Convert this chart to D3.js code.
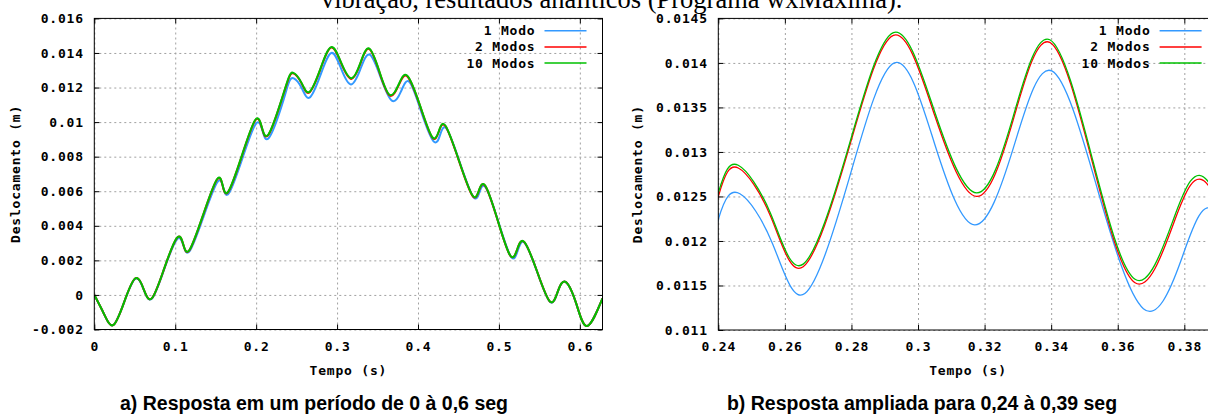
<!DOCTYPE html>
<html>
<head>
<meta charset="utf-8">
<script src="https://cdn.jsdelivr.net/npm/d3@7"></script>
<style>
  body { margin: 0; background: #fff; }
  svg text.gp { font-family: "DejaVu Sans Mono", monospace; font-weight: bold; font-size: 13px; letter-spacing: 0.8px; fill: #000; }
  svg text.title { font-family: "Liberation Serif", "Times New Roman", serif; font-size: 26.5px; fill: #000; }
  svg text.caption { font-family: "Liberation Sans", Arial, sans-serif; font-weight: bold; font-size: 19.5px; fill: #000; }
</style>
</head>
<body>
<div id="chart"></div>
<script>
const width = 1208
const height = 418

// tempo (s) dos pontos lidos: curvas de 2 e 10 modos
const tempo10 = [0, 0.012, 0.0235, 0.037, 0.0504, 0.0607, 0.071, 0.0865, 0.102, 0.1098, 0.1176,
  0.1345, 0.1514, 0.1586, 0.1658, 0.1823, 0.1988, 0.207, 0.2153, 0.2307, 0.24, 0.246, 0.2558, 0.2655,
  0.279, 0.2926, 0.3051, 0.3176, 0.3286, 0.3396, 0.3524, 0.3652, 0.3768, 0.3875, 0.403, 0.4174,
  0.4257, 0.434, 0.4505, 0.467, 0.4752, 0.4834, 0.4987, 0.514, 0.5228, 0.5316, 0.5473, 0.563,
  0.5727, 0.5824, 0.5957, 0.609, 0.628]
const desloc10 = [0, -0.0011, -0.00174, -0.0004, 0.00095, 0.00037, -0.0002, 0.00155, 0.0033, 0.00295, 0.0026,
  0.00464, 0.00668, 0.00634, 0.0060, 0.00806, 0.01012, 0.00971, 0.0093, 0.0112, 0.01254, 0.01285, 0.0123, 0.01174,
  0.01304, 0.01434, 0.01344, 0.01254, 0.0134, 0.01426, 0.01292, 0.01157, 0.01225, 0.01265, 0.0109, 0.00915,
  0.00947, 0.00979, 0.00779, 0.00578, 0.00604, 0.0063, 0.00429, 0.00228, 0.00267, 0.00305, 0.00134, -0.00038,
  0.00019, 0.00076, -0.00052, -0.0018, -0.0002]
const desloc2 = [0, -0.0011, -0.00174, -0.0004, 0.00095, 0.00037, -0.0002, 0.00154, 0.00329, 0.00294, 0.00259,
  0.00462, 0.00666, 0.00632, 0.00598, 0.00803, 0.01009, 0.00968, 0.00927, 0.01117, 0.0125, 0.01282, 0.01227, 0.01171,
  0.01301, 0.01431, 0.0134, 0.0125, 0.01336, 0.01423, 0.01288, 0.01153, 0.0122, 0.01261, 0.01087, 0.00912,
  0.00944, 0.00976, 0.00777, 0.00576, 0.00602, 0.00628, 0.00428, 0.00227, 0.00266, 0.00304, 0.00134, -0.00038,
  0.00019, 0.00076, -0.00052, -0.0018, -0.0002]
// curva de 1 modo (picos um pouco defasados)
const tempo1 = [0, 0.012, 0.0235, 0.037, 0.0504, 0.0607, 0.071, 0.0865, 0.102, 0.11, 0.118,
  0.135, 0.152, 0.1593, 0.1665, 0.183, 0.1995, 0.2078, 0.216, 0.2313, 0.24, 0.2465, 0.2563, 0.266,
  0.2793, 0.2929, 0.305, 0.317, 0.3286, 0.3402, 0.354, 0.3677, 0.379, 0.3895, 0.404, 0.419,
  0.4272, 0.4355, 0.4518, 0.468, 0.476, 0.484, 0.4995, 0.515, 0.5235, 0.532, 0.5475, 0.563,
  0.5727, 0.5824, 0.5957, 0.609, 0.628]
const desloc1 = [0, -0.0011, -0.00174, -0.00041, 0.00093, 0.00035, -0.00022, 0.0015, 0.0032, 0.00288, 0.00255,
  0.00453, 0.00652, 0.00621, 0.0059, 0.0079, 0.0099, 0.0095, 0.0091, 0.0109, 0.01224, 0.01253, 0.01197, 0.01141,
  0.0127, 0.014, 0.01309, 0.01218, 0.01304, 0.01391, 0.01257, 0.01124, 0.01178, 0.01232, 0.0106, 0.0089,
  0.00925, 0.0096, 0.00765, 0.0057, 0.00595, 0.0062, 0.0042, 0.0022, 0.0026, 0.003, 0.0013, -0.0004,
  0.00018, 0.00075, -0.00053, -0.0018, -0.0002]

const seriesNames = ["1 Modo", "2 Modos", "10 Modos"]
const seriesColors = ["#3399ff", "#ff0000", "#00c000"]

const xTicksA = [0, 0.1, 0.2, 0.3, 0.4, 0.5, 0.6]
const xLabelsA = ["0", "0.1", "0.2", "0.3", "0.4", "0.5", "0.6"]
const yTicksA = [-0.002, 0, 0.002, 0.004, 0.006, 0.008, 0.01, 0.012, 0.014, 0.016]
const yLabelsA = ["-0.002", "0", "0.002", "0.004", "0.006", "0.008", "0.01", "0.012", "0.014", "0.016"]
const xTicksB = [0.24, 0.26, 0.28, 0.3, 0.32, 0.34, 0.36, 0.38]
const xLabelsB = ["0.24", "0.26", "0.28", "0.3", "0.32", "0.34", "0.36", "0.38"]
const yTicksB = [0.011, 0.0115, 0.012, 0.0125, 0.013, 0.0135, 0.014, 0.0145]
const yLabelsB = ["0.011", "0.0115", "0.012", "0.0125", "0.013", "0.0135", "0.014", "0.0145"]

const titleText = "vibração, resultados analíticos (Programa wxMaxima)."
const captionA = "a) Resposta em um período de 0 à 0,6 seg"
const captionB = "b) Resposta ampliada para 0,24 à 0,39 seg"

const svg = d3.select("#chart").append("svg").attr("width", width).attr("height", height)

svg.append("text").attr("class", "title").attr("x", 321).attr("y", 8).text(titleText)

const series = [
  tempo1.map((t, i) => ({ t: t, v: desloc1[i] })),
  tempo10.map((t, i) => ({ t: t, v: desloc2[i] })),
  tempo10.map((t, i) => ({ t: t, v: desloc10[i] }))
]

const panels = [
  { id: "a", left: 94.3, right: 602.5, top: 18.4, bottom: 329.5, xDomain: [0, 0.628], yDomain: [-0.002, 0.016],
    xTicks: xTicksA, xLabels: xLabelsA, yTicks: yTicksA, yLabels: yLabelsA, lw: 2, yTitleX: 15.7,
    caption: captionA, captionX: 314 },
  { id: "b", left: 718.3, right: 1217.6, top: 18.4, bottom: 330, xDomain: [0.24, 0.39], yDomain: [0.011, 0.0145],
    xTicks: xTicksB, xLabels: xLabelsB, yTicks: yTicksB, yLabels: yLabelsB, lw: 1.3, yTitleX: 637.7,
    caption: captionB, captionX: 922 }
]

panels.forEach(drawPanel)

function drawPanel(p) {
  const x = d3.scaleLinear().domain(p.xDomain).range([p.left, p.right])
  const y = d3.scaleLinear().domain(p.yDomain).range([p.bottom, p.top])
  const g = svg.append("g")
  const h = p.bottom - p.top
  const w = p.right - p.left

  // grade pontilhada
  const gridX = g.append("g").attr("transform", `translate(0,${p.bottom})`)
    .call(d3.axisBottom(x).tickValues(p.xTicks).tickFormat("").tickSize(-h))
  const gridY = g.append("g").attr("transform", `translate(${p.left},0)`)
    .call(d3.axisLeft(y).tickValues(p.yTicks).tickFormat("").tickSize(-w))
  ;[gridX, gridY].forEach(s => {
    s.select(".domain").remove()
    s.selectAll("line").attr("stroke", "#a0a0a0").attr("stroke-dasharray", "2,3").attr("stroke-width", 1)
  })

  // curvas
  const clipId = "clip-" + p.id
  g.append("clipPath").attr("id", clipId).append("rect")
    .attr("x", p.left).attr("y", p.top).attr("width", w).attr("height", h)
  const line = d3.line().x(d => x(d.t)).y(d => y(d.v)).curve(d3.curveNatural)
  g.append("g").attr("clip-path", `url(#${clipId})`)
    .selectAll("path").data(series).join("path")
      .attr("d", line)
      .attr("fill", "none")
      .attr("stroke", (d, i) => seriesColors[i])
      .attr("stroke-width", p.lw)
      .attr("stroke-linejoin", "round")

  // eixos com marcas para dentro
  const axB = g.append("g").attr("transform", `translate(0,${p.bottom})`)
    .call(d3.axisBottom(x).tickValues(p.xTicks).tickFormat((d, i) => p.xLabels[i]).tickSizeInner(-5).tickSizeOuter(0).tickPadding(12))
  const axT = g.append("g").attr("transform", `translate(0,${p.top})`)
    .call(d3.axisTop(x).tickValues(p.xTicks).tickFormat("").tickSizeInner(-5).tickSizeOuter(0))
  const axL = g.append("g").attr("transform", `translate(${p.left},0)`)
    .call(d3.axisLeft(y).tickValues(p.yTicks).tickFormat((d, i) => p.yLabels[i]).tickSizeInner(-5).tickSizeOuter(0).tickPadding(10.5))
  const axR = g.append("g").attr("transform", `translate(${p.right},0)`)
    .call(d3.axisRight(y).tickValues(p.yTicks).tickFormat("").tickSizeInner(-5).tickSizeOuter(0))
  ;[axB, axT, axL, axR].forEach(s => {
    s.select(".domain").remove()
    s.attr("color", "#000")
    s.selectAll("text").attr("class", "gp")
  })

  g.append("rect").attr("x", p.left).attr("y", p.top).attr("width", w).attr("height", h)
    .attr("fill", "none").attr("stroke", "#000").attr("stroke-width", 1)

  // legenda
  const leg = g.append("g")
  seriesNames.forEach((name, i) => {
    const ly = p.top + 12.3 + i * 16.2
    leg.append("text").attr("class", "gp").attr("x", p.right - 67).attr("y", ly).attr("dy", "0.35em")
      .attr("text-anchor", "end").text(name)
    leg.append("line").attr("x1", p.right - 58).attr("x2", p.right - 16).attr("y1", ly).attr("y2", ly)
      .attr("stroke", seriesColors[i]).attr("stroke-width", 1.5)
  })

  // títulos
  const cy = (p.top + p.bottom) / 2
  g.append("text").attr("class", "gp").attr("text-anchor", "middle")
    .attr("transform", `translate(${p.yTitleX},${cy}) rotate(-90)`).attr("dy", "0.35em")
    .text("Deslocamento (m)")
  g.append("text").attr("class", "gp").attr("text-anchor", "middle")
    .attr("x", (p.left + p.right) / 2).attr("y", 375).text("Tempo (s)")
  svg.append("text").attr("class", "caption").attr("text-anchor", "middle")
    .attr("x", p.captionX).attr("y", 410).text(p.caption)
}
</script>
</body>
</html>
